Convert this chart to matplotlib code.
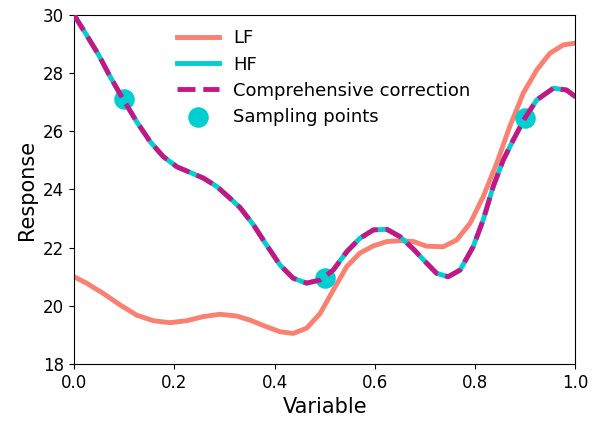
import matplotlib
matplotlib.use("Agg")
import matplotlib.pyplot as plt

# curves
x_lf = [0.0, 0.025, 0.058, 0.092, 0.125, 0.158, 0.191, 0.225, 0.258, 0.291, 0.324,
        0.351, 0.384, 0.411, 0.437, 0.464, 0.491, 0.517, 0.544, 0.570, 0.597, 0.624,
        0.650, 0.677, 0.703, 0.736, 0.763, 0.790, 0.816, 0.843, 0.869, 0.896, 0.923,
        0.949, 0.976, 1.0]
y_lf = [21.0, 20.78, 20.43, 20.03, 19.68, 19.49, 19.42, 19.49, 19.63, 19.71, 19.65,
        19.51, 19.28, 19.11, 19.05, 19.23, 19.74, 20.54, 21.35, 21.81, 22.06, 22.21,
        22.24, 22.21, 22.05, 22.03, 22.26, 22.84, 23.75, 24.9, 26.16, 27.31, 28.11,
        28.68, 28.97, 29.03]

x_hf = [0.0, 0.025, 0.049, 0.072, 0.098, 0.125, 0.152, 0.178, 0.205, 0.231, 0.258,
        0.285, 0.311, 0.331, 0.358, 0.384, 0.411, 0.437, 0.464, 0.491, 0.517, 0.544,
        0.570, 0.597, 0.624, 0.650, 0.677, 0.697, 0.723, 0.746, 0.770, 0.796, 0.816,
        0.836, 0.856, 0.876, 0.899, 0.923, 0.956, 0.982, 1.0]
y_hf = [30.0, 29.31, 28.63, 27.88, 27.1, 26.33, 25.64, 25.13, 24.78, 24.59, 24.39,
        24.1, 23.7, 23.38, 22.78, 22.09, 21.4, 20.95, 20.78, 20.89, 21.23, 21.86,
        22.32, 22.61, 22.63, 22.38, 21.95, 21.58, 21.12, 21.0, 21.23, 22.03, 22.95,
        24.1, 25.01, 25.7, 26.45, 27.08, 27.48, 27.42, 27.19]

x_pts = [0.1, 0.5, 0.9]
y_pts = [27.1, 20.95, 26.45]

fig = plt.figure(figsize=(5.92, 4.26), dpi=100)
ax = fig.add_axes([0.125, 0.1455, 0.847, 0.8195])

ax.plot(x_lf, y_lf, color='salmon', lw=3.5, label='LF', zorder=2, solid_joinstyle='round')
ax.plot(x_hf, y_hf, color='darkturquoise', lw=3.5, label='HF', zorder=3, solid_joinstyle='round')
ax.scatter(x_pts, y_pts, s=190, color='darkturquoise', label='Sampling points', zorder=4)
ax.plot(x_hf, y_hf, color='mediumvioletred', lw=3.5, ls='--', label='Comprehensive correction',
        zorder=5, dash_joinstyle='round')

ax.set_xlim(0, 1)
ax.set_ylim(18, 30)
ax.set_yticks(range(18, 31, 2))
ax.tick_params(labelsize=12)
ax.set_xlabel('Variable', fontsize=15)
ax.set_ylabel('Response', fontsize=15)

h, l = ax.get_legend_handles_labels()
order = [0, 1, 3, 2]
ax.legend([h[i] for i in order], [l[i] for i in order], frameon=False, fontsize=13,
          handlelength=2.3, labelspacing=0.45, loc='upper left', bbox_to_anchor=(0.174, 1.005))

fig.savefig('out.png')
